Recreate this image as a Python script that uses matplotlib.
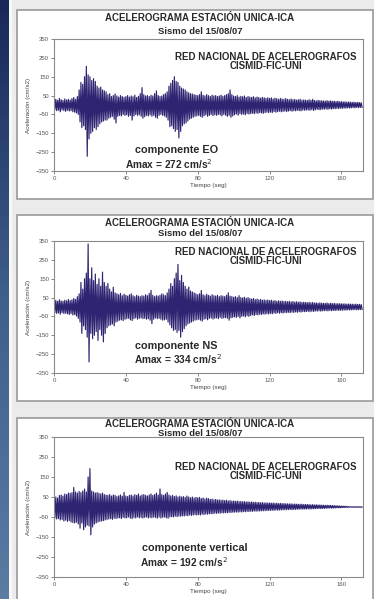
import numpy as np
import matplotlib
matplotlib.use('Agg')
import matplotlib.pyplot as plt
from matplotlib.patches import Rectangle

plt.rcParams['font.family'] = ['Liberation Sans', 'DejaVu Sans']

# peak values per 1-second window (cm/s2)
eo_hi = [22, 30, 25, 35, 28, 24, 32, 27, 30, 26,
         34, 40, 30, 45, 80, 120, 110, 150, 205, 160,
         150, 130, 140, 125, 100, 90, 95, 80, 75, 70,
         55, 60, 45, 50, 58, 48, 42, 50, 45, 40,
         45, 50, 42, 48, 44, 52, 40, 46, 60, 92,
         55, 48, 50, 45, 52, 48, 60, 75, 50, 45,
         48, 55, 60, 70, 100, 115, 130, 150, 125, 120,
         100, 90, 85, 80, 70, 65, 60, 58, 55, 52,
         50, 55, 70, 52, 48, 55, 50, 45, 52, 48,
         50, 45, 48, 52, 46, 50, 55, 60, 80, 55,
         48, 45, 50, 42, 46, 44, 48, 40, 45, 42,
         40, 44, 38, 42, 40, 36, 40, 38, 35, 38,
         35, 38, 32, 36, 34, 30, 35, 32, 30, 34,
         30, 28, 32, 28, 30, 26, 28, 30, 25, 27,
         26, 24, 28, 25, 30, 24, 22, 25, 23, 22,
         22, 20, 23, 20, 22, 19, 20, 18, 20, 17,
         18, 16, 17, 15, 16, 15, 14, 15, 13, 14,
         13, 12]
eo_lo = [-24, -30, -28, -36, -26, -30, -34, -28, -32, -30,
         -36, -38, -42, -50, -90, -120, -110, -130, -272, -180,
         -150, -140, -120, -130, -115, -100, -90, -85, -80, -80,
         -70, -65, -60, -75, -95, -60, -55, -58, -50, -55,
         -52, -60, -55, -80, -58, -50, -55, -52, -60, -70,
         -62, -55, -58, -52, -60, -55, -65, -70, -55, -50,
         -55, -58, -65, -80, -115, -110, -125, -140, -130, -175,
         -140, -110, -100, -95, -85, -75, -70, -65, -60, -58,
         -55, -60, -65, -58, -52, -60, -55, -50, -56, -52,
         -55, -50, -52, -58, -50, -54, -60, -55, -65, -58,
         -52, -48, -54, -46, -50, -48, -52, -45, -48, -46,
         -44, -46, -42, -45, -40, -42, -44, -40, -38, -40,
         -38, -40, -35, -38, -36, -33, -36, -34, -32, -35,
         -32, -30, -33, -30, -31, -28, -30, -31, -27, -28,
         -27, -26, -28, -25, -29, -25, -23, -25, -24, -22,
         -22, -21, -23, -20, -22, -19, -20, -18, -19, -17,
         -18, -16, -17, -15, -16, -15, -14, -15, -13, -14,
         -13, -12]

ns_hi = [28, 35, 30, 38, 32, 30, 36, 33, 40, 34,
         38, 45, 40, 55, 70, 130, 95, 150, 180, 334,
         150, 208, 140, 175, 120, 150, 110, 185, 130, 110,
         125, 95, 80, 105, 75, 70, 65, 72, 60, 68,
         62, 58, 65, 70, 60, 55, 62, 58, 55, 60,
         58, 65, 60, 72, 88, 62, 55, 60, 58, 62,
         70, 65, 60, 75, 95, 124, 110, 150, 180, 226,
         140, 168, 130, 110, 95, 106, 85, 80, 75, 70,
         65, 70, 88, 65, 60, 68, 62, 58, 65, 60,
         58, 62, 55, 60, 58, 55, 62, 75, 58, 55,
         52, 55, 50, 60, 50, 48, 52, 46, 50, 45,
         42, 45, 40, 42, 38, 40, 36, 38, 35, 37,
         34, 36, 32, 34, 30, 33, 30, 32, 29, 30,
         28, 30, 27, 29, 26, 28, 25, 27, 24, 25,
         24, 23, 25, 22, 24, 21, 22, 20, 22, 20,
         20, 19, 21, 18, 20, 18, 19, 17, 18, 17,
         17, 16, 17, 15, 16, 15, 15, 14, 15, 14,
         14, 13]
ns_lo = [-30, -34, -32, -38, -30, -35, -33, -36, -40, -35,
         -42, -40, -48, -60, -80, -140, -100, -120, -160, -291,
         -140, -168, -150, -130, -177, -120, -150, -185, -140, -110,
         -100, -95, -90, -100, -80, -75, -70, -68, -72, -65,
         -62, -60, -68, -72, -62, -58, -65, -60, -58, -62,
         -60, -65, -62, -70, -88, -65, -58, -62, -60, -65,
         -70, -68, -65, -80, -95, -110, -124, -120, -135, -124,
         -160, -130, -115, -100, -90, -85, -80, -75, -70, -68,
         -65, -70, -75, -65, -62, -68, -60, -58, -64, -60,
         -58, -62, -55, -60, -58, -56, -60, -70, -58, -55,
         -52, -55, -50, -58, -50, -48, -52, -46, -50, -45,
         -42, -45, -40, -42, -38, -40, -36, -38, -35, -37,
         -34, -36, -32, -34, -30, -33, -30, -32, -29, -30,
         -28, -30, -27, -29, -26, -28, -25, -27, -24, -25,
         -24, -23, -25, -22, -24, -21, -22, -20, -22, -20,
         -20, -19, -21, -18, -20, -18, -19, -17, -18, -17,
         -17, -16, -17, -15, -16, -15, -15, -14, -15, -14,
         -14, -13]

ve_hi = [40, 50, 45, 58, 60, 55, 65, 62, 70, 68,
         72, 98, 75, 70, 78, 72, 80, 90, 75, 150,
         192, 80, 75, 70, 72, 68, 65, 70, 62, 60,
         58, 62, 55, 60, 58, 52, 56, 60, 54, 73,
         55, 52, 58, 60, 55, 62, 58, 65, 55, 60,
         62, 58, 55, 60, 65, 58, 62, 70, 60, 90,
         62, 58, 65, 73, 60, 55, 58, 52, 56, 50,
         54, 50, 52, 48, 55, 50, 46, 50, 45, 48,
         46, 48, 42, 45, 40, 44, 42, 38, 40, 36,
         38, 35, 36, 33, 35, 32, 34, 30, 32, 29,
         30, 28, 30, 27, 28, 26, 27, 25, 26, 24,
         25, 23, 24, 22, 23, 21, 22, 20, 21, 20,
         20, 19, 20, 18, 19, 17, 18, 17, 17, 16,
         16, 15, 16, 14, 15, 14, 14, 13, 14, 12,
         13, 12, 12, 11, 12, 10, 11, 10, 10, 9,
         9, 8, 9, 8, 8, 7, 7, 6, 6, 5,
         5, 4, 4, 3, 2, 1, 1, 1, 1, 1,
         1, 1]
ve_lo = [-55, -60, -58, -65, -62, -70, -66, -72, -68, -75,
         -78, -80, -76, -85, -106, -80, -114, -100, -90, -95,
         -139, -100, -85, -80, -75, -72, -70, -68, -65, -62,
         -60, -58, -62, -56, -58, -55, -54, -58, -52, -55,
         -54, -50, -56, -58, -52, -55, -50, -54, -52, -55,
         -52, -50, -55, -52, -54, -50, -52, -56, -50, -55,
         -52, -50, -54, -56, -50, -48, -50, -46, -48, -45,
         -46, -44, -45, -42, -44, -40, -42, -40, -38, -40,
         -38, -40, -36, -38, -35, -36, -34, -33, -34, -31,
         -32, -30, -31, -29, -30, -28, -29, -27, -28, -26,
         -26, -25, -26, -24, -25, -23, -24, -22, -23, -21,
         -22, -20, -21, -20, -20, -19, -19, -18, -18, -17,
         -17, -16, -17, -15, -16, -15, -15, -14, -14, -13,
         -13, -12, -13, -12, -12, -11, -11, -10, -11, -10,
         -10, -9, -10, -9, -9, -8, -8, -7, -8, -7,
         -7, -6, -6, -5, -6, -5, -5, -4, -4, -4,
         -3, -3, -2, -2, -1, -1, -1, -1, -1, -1,
         -1, -1]

components = ['componente EO', 'componente NS', 'componente vertical']
amax = [272, 334, 192]
title = 'ACELEROGRAMA ESTACIÓN UNICA-ICA'
subtitle = 'Sismo del 15/08/07'
network = ['RED NACIONAL DE ACELEROGRAFOS', 'CISMID-FIC-UNI']
yticks = [350, 250, 150, 50, -50, -150, -250, -350]
xticks = [0, 40, 80, 120, 160]

W, H = 374, 599
fig = plt.figure(figsize=(W / 100, H / 100), dpi=100, facecolor='#ebebeb')


def box(x0, y0, x1, y1):
    # pixel box (top-left origin) -> figure rect
    return [x0 / W, 1 - y1 / H, (x1 - x0) / W, (y1 - y0) / H]


def fx(x):
    return x / W


def fy(y):
    return 1 - y / H


# dark blue strip on the left
strip = fig.add_axes(box(0, 0, 9, H))
strip.imshow(np.linspace(0, 1, 100).reshape(-1, 1), aspect='auto',
             cmap=matplotlib.colors.LinearSegmentedColormap.from_list('s', ['#18285a', '#3f5f8c', '#5a7ba2']))
strip.axis('off')
fig.patches.append(Rectangle((fx(9), 0), fx(2), 1, transform=fig.transFigure, color='#f7f7f7', zorder=-2))

# panel frame, axes box, and text rows (pixel rows)
panels = [(10, 199, 39, 171), (215, 401, 241, 373), (418, 605, 437, 577)]
title_rows = [(18, 31), (223, 234), (424, 434)]
net_rows = [(57, 66), (252, 261), (467, 476)]
comp_rows = [(150, 164), (346, 359), (548, 562)]
comp_left = [(135, 125), (135, 134), (142, 140)]
traces = [(eo_hi, eo_lo), (ns_hi, ns_lo), (ve_hi, ve_lo)]
txt = dict(ha='center', va='center', fontweight='bold', color='#2a2a2a')

for i, ((ptop, pbot, atop, abot), (hi, lo)) in enumerate(zip(panels, traces)):
    fig.patches.append(Rectangle((fx(17), fy(pbot)), fx(373 - 17), fy(ptop) - fy(pbot),
                                 transform=fig.transFigure, facecolor='white',
                                 edgecolor='#9a9a9a', linewidth=1.2, zorder=-1))
    ax = fig.add_axes(box(54, atop, 363, abot))
    ax.set_facecolor('none')
    n = min(len(hi), len(lo))
    t = np.arange(n, dtype=float)
    x = np.empty(2 * n)
    y = np.empty(2 * n)
    x[0::2], x[1::2] = t, t + 0.5
    y[0::2], y[1::2] = hi[:n], lo[:n]
    ax.plot(x, y, color='#2d2472', linewidth=0.85)
    ax.set_xlim(0, 172)
    ax.set_ylim(-350, 350)
    ax.set_yticks(yticks)
    ax.set_xticks(xticks)
    ax.tick_params(labelsize=4.3, length=2, width=0.5, pad=1.5, colors='#555555')
    for s in ax.spines.values():
        s.set_color('#8a8a8a')
        s.set_linewidth(0.8)
    ax.set_ylabel('Aceleración (cm/s2)', fontsize=4.5, color='#444444', labelpad=3)
    ax.set_xlabel('Tiempo (seg)', fontsize=4.5, color='#444444', labelpad=1.5)

    fig.text(fx(200), fy(title_rows[i][0]), title, fontsize=7, **txt)
    fig.text(fx(200), fy(title_rows[i][1]), subtitle, fontsize=6.8, **txt)
    fig.text(fx(266), fy(net_rows[i][0]), network[0], fontsize=7, **txt)
    fig.text(fx(266), fy(net_rows[i][1]), network[1], fontsize=7, **txt)
    fig.text(fx(comp_left[i][0]), fy(comp_rows[i][0]), components[i], fontsize=7.8, ha='left',
             va='center', fontweight='bold', color='#2a2a2a')
    fig.text(fx(comp_left[i][1]), fy(comp_rows[i][1]), 'Amax = %d cm/s$^2$' % amax[i], fontsize=7.3,
             ha='left', va='center', fontweight='bold', color='#2a2a2a')

fig.savefig('out.png', dpi=100, facecolor=fig.get_facecolor())
